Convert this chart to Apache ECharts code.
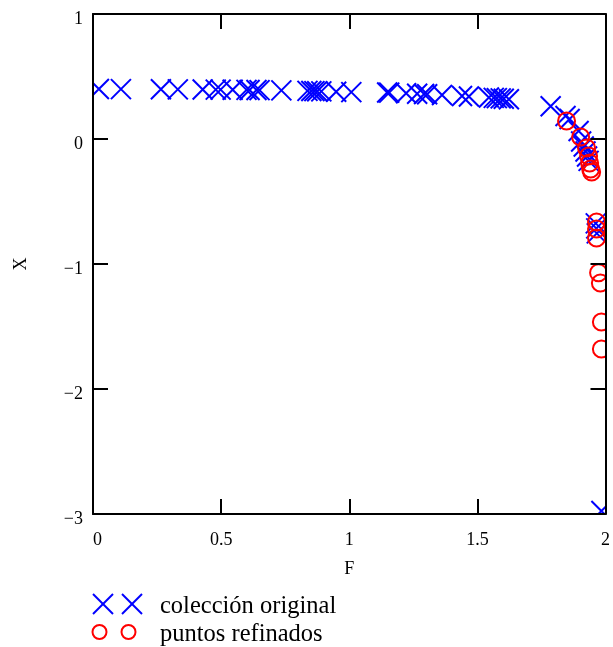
<!DOCTYPE html>
<html>
<head>
<meta charset="utf-8">
<script src="https://cdn.jsdelivr.net/npm/echarts@6/dist/echarts.min.js"></script>
<style>
  html, body { margin: 0; padding: 0; background: #fff; }
  #chart { width: 613px; height: 647px; }
</style>
</head>
<body>
<div id="chart"></div>
<script>
// Original collection: F values and matching X values
const origF = [
  0.023, 0.109, 0.265, 0.331, 0.428, 0.479, 0.498, 0.545, 0.599, 0.611,
  0.638, 0.650, 0.735, 0.837, 0.852, 0.864, 0.875, 0.891, 0.949, 1.008,
  1.148, 1.156, 1.222, 1.265, 1.292, 1.304, 1.362, 1.440, 1.467, 1.545,
  1.564, 1.576, 1.591, 1.603, 1.623,
  1.786, 1.844, 1.860, 1.895, 1.905, 1.915, 1.922, 1.928, 1.934,
  1.962, 1.964, 1.966, 1.984
];
const origX = [
  0.400, 0.399, 0.398, 0.397, 0.396, 0.395, 0.395, 0.394, 0.393, 0.392,
  0.392, 0.391, 0.389, 0.385, 0.384, 0.383, 0.382, 0.381, 0.378, 0.375,
  0.372, 0.371, 0.366, 0.362, 0.360, 0.358, 0.352, 0.344, 0.340, 0.332,
  0.329, 0.327, 0.325, 0.322, 0.318,
  0.262, 0.184, 0.160, 0.064, -0.020, -0.060, -0.100, -0.140, -0.175,
  -0.675, -0.715, -0.755, -2.976
];

// Refined points
const refF = [
  1.848, 1.903, 1.926, 1.934, 1.938, 1.942, 1.946,
  1.965, 1.965, 1.965, 1.973, 1.980, 1.984, 1.984
];
const refX = [
  0.144, 0.016, -0.072, -0.136, -0.192, -0.240, -0.264,
  -0.664, -0.720, -0.792, -1.070, -1.152, -1.464, -1.680
];

const xTicks = [0, 0.5, 1, 1.5, 2];
const yTicks = [1, 0, -1, -2, -3];

const seriesNames = ['colección original', 'puntos refinados'];

const FONT = '"Liberation Serif", "Times New Roman", serif';
const BLUE = '#0000ff';
const RED = '#ff0000';

const crossPath = 'path://M0 0L20 20M20 0L0 20';

const fmtY = v => (v < 0 ? '\u2212' + Math.abs(v) : String(v));

const chart = echarts.init(document.getElementById('chart'), null, { renderer: 'canvas' });

const lineStyle = { color: '#000', width: 2 };

// plot box in pixels
const G = { left: 93, top: 14, width: 514, height: 500 };

const option = {
  animation: false,
  backgroundColor: '#fff',
  grid: { left: G.left, top: G.top, width: G.width, height: G.height, containLabel: false },
  xAxis: [
    {
      type: 'value', min: 0, max: 2, interval: 0.5, position: 'bottom', z: 20,
      name: 'F', nameLocation: 'middle', nameGap: 46,
      nameTextStyle: { fontFamily: FONT, fontSize: 18, color: '#000' },
      axisLine: { show: true, onZero: false, lineStyle },
      axisTick: { show: true, inside: true, length: 15, lineStyle },
      axisLabel: { fontFamily: FONT, fontSize: 18, color: '#000', margin: 17,
        alignMinLabel: 'left',
        formatter: v => (xTicks.includes(v) ? String(v) : '') },
      splitLine: { show: false }
    },
    {
      type: 'value', min: 0, max: 2, interval: 0.5, position: 'top', z: 20,
      axisLine: { show: true, onZero: false, lineStyle },
      axisTick: { show: true, inside: true, length: 15, lineStyle },
      axisLabel: { show: false },
      splitLine: { show: false }
    }
  ],
  yAxis: [
    {
      type: 'value', min: -3, max: 1, interval: 1, position: 'left', z: 20,
      name: 'X', nameLocation: 'middle', nameGap: 63, nameRotate: 90,
      nameTextStyle: { fontFamily: FONT, fontSize: 18, color: '#000' },
      axisLine: { show: true, onZero: false, lineStyle },
      axisTick: { show: true, inside: true, length: 15, lineStyle },
      axisLabel: { fontFamily: FONT, fontSize: 18, color: '#000', margin: 10,
        verticalAlign: 'top', lineHeight: 10,
        formatter: v => (yTicks.includes(v) ? fmtY(v) : '') },
      splitLine: { show: false }
    },
    {
      type: 'value', min: -3, max: 1, interval: 1, position: 'right', z: 20,
      axisLine: { show: true, onZero: false, lineStyle },
      axisTick: { show: true, inside: true, length: 15, lineStyle },
      axisLabel: { show: false },
      splitLine: { show: false }
    }
  ],
  series: [
    {
      name: seriesNames[0],
      type: 'scatter',
      clip: true,
      symbol: crossPath,
      symbolSize: 20,
      itemStyle: { color: 'none', borderColor: BLUE, borderWidth: 2, opacity: 1 },
      data: origF.map((f, i) => [f, origX[i]]),
      z: 2
    },
    {
      name: seriesNames[1],
      type: 'scatter',
      clip: true,
      symbol: 'circle',
      symbolSize: 17,
      itemStyle: { color: 'none', borderColor: RED, borderWidth: 2, opacity: 1 },
      data: refF.map((f, i) => [f, refX[i]]),
      z: 3
    }
  ],
  graphic: [
    // white masks around the plot box so markers are cut at the frame
    { type: 'rect', z: 10, silent: true, shape: { x: 0, y: 0, width: 613, height: G.top }, style: { fill: '#fff' } },
    { type: 'rect', z: 10, silent: true, shape: { x: 0, y: 0, width: G.left, height: 590 }, style: { fill: '#fff' } },
    { type: 'rect', z: 10, silent: true, shape: { x: G.left + G.width, y: 0, width: 20, height: 590 }, style: { fill: '#fff' } },
    { type: 'rect', z: 10, silent: true, shape: { x: 0, y: G.top + G.height, width: 613, height: 76 }, style: { fill: '#fff' } },
    // legend: two crosses, two circles, and their captions
    { type: 'line', z: 30, shape: { x1: 93, y1: 594, x2: 113, y2: 614 }, style: { stroke: BLUE, lineWidth: 2 } },
    { type: 'line', z: 30, shape: { x1: 113, y1: 594, x2: 93, y2: 614 }, style: { stroke: BLUE, lineWidth: 2 } },
    { type: 'line', z: 30, shape: { x1: 122, y1: 594, x2: 142, y2: 614 }, style: { stroke: BLUE, lineWidth: 2 } },
    { type: 'line', z: 30, shape: { x1: 142, y1: 594, x2: 122, y2: 614 }, style: { stroke: BLUE, lineWidth: 2 } },
    { type: 'circle', z: 30, shape: { cx: 99.5, cy: 632, r: 7 }, style: { fill: 'none', stroke: RED, lineWidth: 2 } },
    { type: 'circle', z: 30, shape: { cx: 128.5, cy: 632, r: 7 }, style: { fill: 'none', stroke: RED, lineWidth: 2 } },
    { type: 'text', z: 30, left: 160, top: 594,
      style: { text: seriesNames[0], font: '24.5px ' + FONT, fill: '#000' } },
    { type: 'text', z: 30, left: 160, top: 622,
      style: { text: seriesNames[1], font: '24.5px ' + FONT, fill: '#000' } }
  ]
};

chart.setOption(option);
</script>
</body>
</html>
